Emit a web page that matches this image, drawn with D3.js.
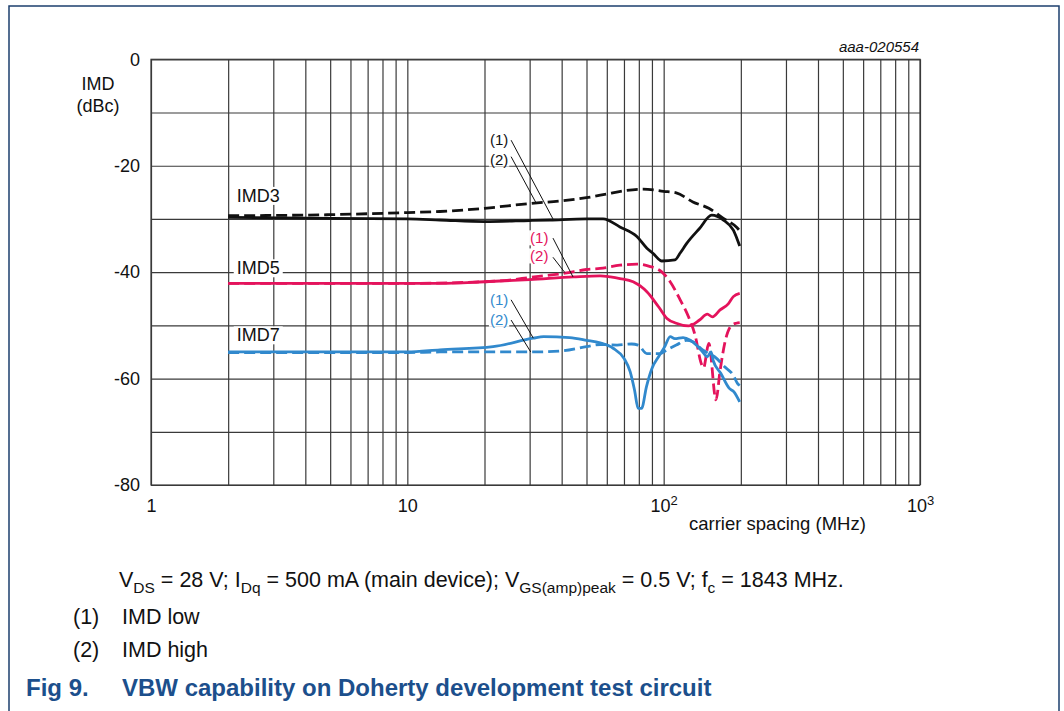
<!DOCTYPE html>
<html>
<head>
<meta charset="utf-8">
<script src="https://cdn.jsdelivr.net/npm/d3@7"></script>
<style>
  body { margin: 0; background: #fff; }
  svg { display: block; font-family: "Liberation Sans", Arial, sans-serif; }
</style>
</head>
<body>
<div id="chart"></div>
<script>
// carrier spacing (MHz) vs IMD (dBc); (1) = IMD low (solid), (2) = IMD high (dashed)
var imd3Low = [[2,-29.7],[5,-29.9],[10,-30.0],[13.4,-30.2],[20,-30.5],[30,-30.3],[36,-30.2],[50,-30.0],[58,-30.0],
  [67.5,-31.5],[78.6,-33.3],[86,-35.5],[91,-36.5],[96.4,-37.7],[98.3,-37.9],[110.7,-37.7],[116,-36.4],[123,-34.6],
  [138,-31.8],[154,-29.3],[171,-30.2],[187,-32.1],[198,-35.1]];
var imd3High = [[2,-29.4],[5,-29.2],[10,-28.8],[13.4,-28.6],[20,-28.0],[30,-27.1],[40,-26.6],[50,-26.0],[60,-25.3],
  [70,-24.7],[83,-24.4],[100,-24.8],[112,-25.1],[130,-26.8],[150,-28.0],[171,-29.9],[193,-31.6],[198,-32.2]];
var imd5Low = [[2,-42.1],[10,-42.1],[13.4,-42.1],[20,-41.8],[30,-41.4],[44.4,-40.9],[56.5,-40.7],[62,-40.9],
  [67.5,-41.2],[76,-41.8],[81,-42.6],[86,-43.7],[95.5,-46.5],[103,-48.7],[112,-49.6],[125,-50.1],[138,-49.0],
  [148,-47.9],[155,-48.4],[166,-47.1],[179,-45.9],[187,-44.6],[198,-44.0]];
var imd5High = [[2,-42.1],[10,-42.1],[20,-41.8],[25,-41.5],[30,-41.0],[41.2,-40.2],[50,-39.5],[56.5,-39.3],
  [67.5,-38.7],[78.6,-38.5],[88,-38.9],[98,-39.9],[106,-41.8],[116,-45.2],[125,-48.4],[133,-52.1],[140,-57.1],
  [143,-58.0],[150,-53.4],[160,-64.0],[166,-58.5],[173,-53.4],[184,-50.0],[192,-49.6],[198,-49.5]];
var imd7Low = [[2,-55.0],[10,-55.0],[13.4,-54.6],[21.6,-54.0],[31,-52.4],[34,-52.1],[43,-52.3],[50,-52.8],
  [56.5,-53.3],[63.5,-54.3],[70,-56.2],[74,-58.7],[77,-62.2],[79.5,-65.6],[82,-65.6],[85.7,-61.5],[90,-58.1],
  [95.5,-55.9],[101,-54.0],[106,-52.1],[110.5,-52.5],[119,-52.3],[127,-52.8],[134,-53.7],[142,-55.0],[148,-55.9],
  [153,-55.0],[156,-56.6],[167,-59.0],[180,-61.8],[188,-62.5],[198,-64.4]];
var imd7High = [[2,-55.1],[10,-55.1],[13.4,-55.0],[20,-55.0],[30.3,-55.0],[40,-54.8],[50,-54.0],[56.5,-53.6],
  [65.8,-53.7],[75,-53.5],[79.5,-53.7],[86,-55.3],[97,-55.3],[103,-54.6],[112,-53.7],[123,-52.8],[130,-53.1],
  [142,-54.6],[150,-55.3],[158,-55.9],[173,-57.8],[187,-59.4],[194,-60.9],[198,-61.3]];

var yTicks = [0, -20, -40, -60, -80];
var xTicks = [1, 10, 100, 1000];
var xTickLabels = [["1", ""], ["10", ""], ["10", "2"], ["10", "3"]];

// curve name labels: [text, f, dBc at baseline]
var curveLabels = [["IMD3", 2.16, -26.8], ["IMD5", 2.16, -40.4], ["IMD7", 2.16, -53.0]];
// callouts: [text, f, dBc centre, colour key]
var callouts = [["(1)", 22.8, -15.2, "k"], ["(2)", 22.8, -18.8, "k"],
  ["(1)", 32.7, -33.6, "r"], ["(2)", 32.7, -37.0, "r"],
  ["(1)", 22.8, -45.2, "b"], ["(2)", 22.8, -48.9, "b"]];
// leader lines: [f1, dB1, f2, dB2]
var leaders = [[25.4, -15.2, 37.0, -30.0], [25.4, -18.3, 31.8, -27.0],
  [37.0, -33.6, 44.3, -40.9], [37.0, -37.2, 41.2, -40.1],
  [25.4, -45.2, 31.0, -52.4], [25.4, -49.0, 30.3, -55.0]];

var colors = { k: "#111", r: "#e4135c", b: "#3189cd" };
var series = [
  { data: imd3High, c: "k", dash: true }, { data: imd3Low, c: "k", dash: false },
  { data: imd5High, c: "r", dash: true }, { data: imd5Low, c: "r", dash: false },
  { data: imd7High, c: "b", dash: true }, { data: imd7Low, c: "b", dash: false }
];

var W = 1064, H = 711;
var svg = d3.select("#chart").append("svg").attr("width", W).attr("height", H);

// frame
svg.append("path").attr("d", "M9,720 V6 H1059 V720")
  .attr("fill", "none").attr("stroke", "#1d3f6e").attr("stroke-width", 1.5);

var x = d3.scaleLog().domain([1, 1000]).range([151, 920]);
var y = d3.scaleLinear().domain([-80, 0]).range([485, 59.3]);

var gridF = [];
[1, 10, 100].forEach(function (d) {
  for (var m = 1; m < 10; m++) gridF.push(m * d);
});
gridF.push(1000);

var grid = svg.append("g");
grid.append("g").attr("transform", "translate(0,485)")
  .call(d3.axisBottom(x).tickValues(gridF).tickSize(-(485 - 59.3)).tickFormat(""))
  .call(function (g) { g.select(".domain").remove(); });
grid.append("g").attr("transform", "translate(151,0)")
  .call(d3.axisLeft(y).tickValues(d3.range(-80, 1, 10)).tickSize(-(920 - 151)).tickFormat(""))
  .call(function (g) { g.select(".domain").remove(); });
grid.selectAll("line").attr("stroke", "#3a3a3a").attr("stroke-width", 1.2);
grid.append("rect").attr("x", 151).attr("y", 59.3).attr("width", 920 - 151).attr("height", 485 - 59.3)
  .attr("fill", "none").attr("stroke", "#3a3a3a").attr("stroke-width", 1.2);

// y labels
var yAx = svg.append("g").attr("transform", "translate(140,0)")
  .call(d3.axisLeft(y).tickValues(yTicks).tickSize(0).tickPadding(0)
    .tickFormat(function (d) { return String(d); }));
yAx.select(".domain").remove();
yAx.selectAll("text").attr("font-size", 18).attr("fill", "#111").attr("font-family", null);

// x labels
var xAx = svg.append("g").attr("transform", "translate(0,498)")
  .call(d3.axisBottom(x).tickValues(xTicks).tickSize(0).tickPadding(0).tickFormat(""));
xAx.select(".domain").remove();
xAx.selectAll(".tick text").each(function (d, i) {
  var t = d3.select(this).attr("font-size", 18).attr("fill", "#111").attr("font-family", null)
    .attr("dy", "0.8em");
  t.append("tspan").text(xTickLabels[i][0]);
  if (xTickLabels[i][1]) {
    t.append("tspan").attr("font-size", 13).attr("dy", "-0.55em").text(xTickLabels[i][1]);
  }
});

svg.append("text").attr("x", 689).attr("y", 530).attr("font-size", 18.5).attr("fill", "#111")
  .text("carrier spacing (MHz)");
svg.append("text").attr("x", 98).attr("y", 90).attr("text-anchor", "middle").attr("font-size", 18)
  .attr("fill", "#111").text("IMD");
svg.append("text").attr("x", 98).attr("y", 112).attr("text-anchor", "middle").attr("font-size", 18)
  .attr("fill", "#111").text("(dBc)");
svg.append("text").attr("x", 919).attr("y", 52).attr("text-anchor", "end").attr("font-size", 15)
  .attr("font-style", "italic").attr("fill", "#111").text("aaa-020554");

// curve name labels with white backing
curveLabels.forEach(function (l) {
  var g = svg.append("g");
  var t = g.append("text").attr("x", x(l[1])).attr("y", y(l[2])).attr("font-size", 18)
    .attr("fill", "#111").text(l[0]);
  var b = t.node().getBBox();
  g.insert("rect", "text").attr("x", b.x - 3).attr("y", b.y + 1).attr("width", b.width + 6)
    .attr("height", b.height - 2).attr("fill", "#fff");
});

// curves
var line = d3.line()
  .x(function (d) { return x(d[0]); })
  .y(function (d) { return y(d[1]); })
  .curve(d3.curveMonotoneX);

svg.append("g").selectAll("path").data(series).enter().append("path")
  .attr("d", function (s) { return line(s.data); })
  .attr("fill", "none")
  .attr("stroke", function (s) { return colors[s.c]; })
  .attr("stroke-width", 2.8)
  .attr("stroke-linejoin", "round")
  .attr("stroke-dasharray", function (s) { return s.dash ? "11,5" : null; });

// callouts
svg.append("g").selectAll("line").data(leaders).enter().append("line")
  .attr("x1", function (d) { return x(d[0]); }).attr("y1", function (d) { return y(d[1]); })
  .attr("x2", function (d) { return x(d[2]); }).attr("y2", function (d) { return y(d[3]); })
  .attr("stroke", "#111").attr("stroke-width", 1);

callouts.forEach(function (c) {
  var g = svg.append("g");
  var t = g.append("text").attr("x", x(c[1])).attr("y", y(c[2])).attr("dy", "0.35em")
    .attr("text-anchor", "middle").attr("font-size", 15).attr("fill", colors[c[3]]).text(c[0]);
  var b = t.node().getBBox();
  g.insert("rect", "text").attr("x", b.x - 1).attr("y", b.y + 1).attr("width", b.width + 2)
    .attr("height", b.height - 2).attr("fill", "#fff");
});

// caption
var cap = svg.append("g").attr("fill", "#111").attr("font-size", 21.5);
var t1 = cap.append("text").attr("x", 119).attr("y", 587);
var parts = [["V", "DS"], [" = 28 V; I", "Dq"], [" = 500 mA (main device); V", "GS(amp)peak"],
  [" = 0.5 V; f", "c"], [" = 1843 MHz.", ""]];
parts.forEach(function (p, i) {
  t1.append("tspan").attr("dy", i ? -6 : 0).text(p[0]);
  if (p[1]) t1.append("tspan").attr("font-size", 15.5).attr("dy", 6).text(p[1]);
});

cap.append("text").attr("x", 73).attr("y", 624).text("(1)");
cap.append("text").attr("x", 122).attr("y", 624).text("IMD low");
cap.append("text").attr("x", 73).attr("y", 657).text("(2)");
cap.append("text").attr("x", 122).attr("y", 657).text("IMD high");

svg.append("text").attr("x", 26).attr("y", 696).attr("font-size", 24).attr("font-weight", "bold")
  .attr("fill", "#1c4f8c").text("Fig 9.");
svg.append("text").attr("x", 122).attr("y", 696).attr("font-size", 24).attr("font-weight", "bold")
  .attr("fill", "#1c4f8c").text("VBW capability on Doherty development test circuit");
</script>
</body>
</html>
